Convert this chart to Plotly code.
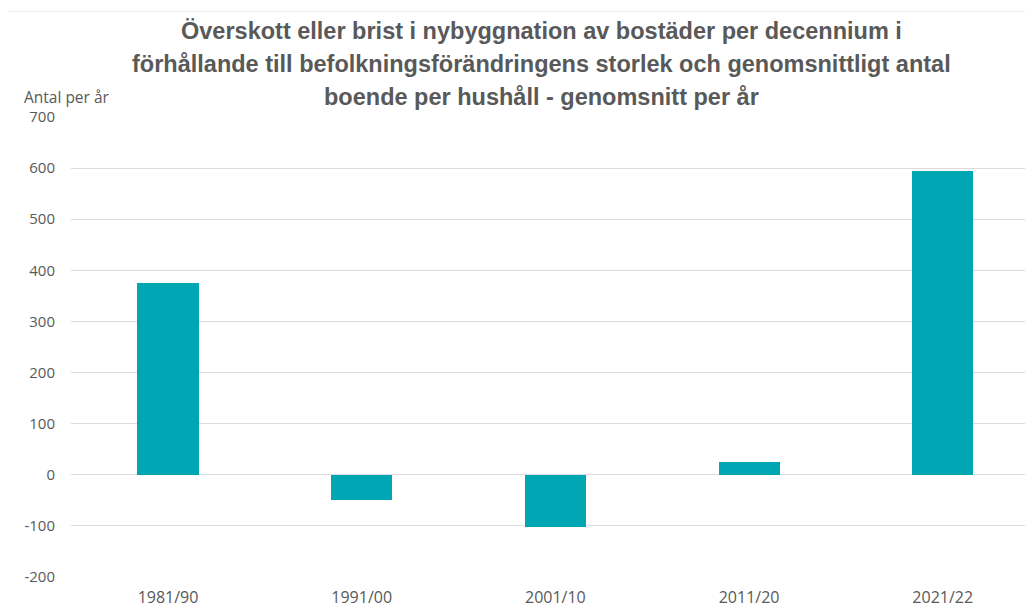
import plotly.graph_objects as go

categories = ["1981/90", "1991/00", "2001/10", "2011/20", "2021/22"]
values = [376, -49, -102, 25, 594]
tick_vals = [-200, -100, 0, 100, 200, 300, 400, 500, 600, 700]
tick_text = ["-200", "-100", "0", "100", "200", "300", "400", "500", "600", "700"]

title_lines = [
    "Överskott eller brist i nybyggnation av bostäder per decennium i",
    "förhållande till befolkningsförändringens storlek och genomsnittligt antal",
    "boende per hushåll - genomsnitt per år",
]
yaxis_title = "Antal per år"

# The page body has an 8px margin, so figure coords = page coords - 8
W, H = 1025, 600
L, R = 63, 1025
T, B = 108.7, 569.3
PW, PH = R - L, B - T


def px(xp):
    return (xp - L) / PW


def py(yp):
    return (B - yp) / PH


fig = go.Figure()
fig.add_trace(go.Bar(
    x=list(range(len(categories))),
    y=values,
    width=0.315,
    marker=dict(color="#00A6B4", line=dict(width=0)),
    hoverinfo="x+y",
))

annotations = []
for i, line in enumerate(title_lines):
    annotations.append(dict(
        text="<b>" + line + "</b>", xref="paper", yref="paper",
        x=px(533.5), y=py(23 + 33 * i), xanchor="center", yanchor="middle",
        showarrow=False,
        font=dict(size=23.5, color="#595959", family="Liberation Sans, Arial, sans-serif"),
    ))
annotations.append(dict(
    text=yaxis_title, xref="paper", yref="paper",
    x=px(14), y=py(89), xanchor="left", yanchor="middle", showarrow=False,
    font=dict(size=15.5, color="#595959", family="Open Sans, sans-serif"),
))

fig.update_layout(
    width=W, height=H,
    margin=dict(l=L, r=W - R, t=T, b=H - B, pad=0),
    paper_bgcolor="white", plot_bgcolor="white",
    showlegend=False,
    bargap=0,
    font=dict(family="Open Sans, sans-serif", color="#595959"),
    xaxis=dict(
        range=[-0.5008, 4.466],
        tickmode="array",
        tickvals=list(range(len(categories))),
        ticktext=categories,
        showgrid=False, zeroline=False, showline=False,
        ticks="", tickfont=dict(size=16, color="#595959", family="Open Sans, sans-serif"),
        ticklabelstandoff=9, automargin=False,
    ),
    yaxis=dict(
        range=[-200, 700],
        tickmode="array",
        tickvals=tick_vals,
        ticktext=tick_text,
        showgrid=True, gridcolor="#dcdcdc", gridwidth=1.4,
        zeroline=True, zerolinecolor="#dcdcdc", zerolinewidth=1.4,
        showline=False, ticks="",
        tickfont=dict(size=15, color="#595959", family="Open Sans, sans-serif"),
        ticklabelstandoff=15, automargin=False,
    ),
    annotations=annotations,
    shapes=[dict(
        type="line", xref="paper", yref="paper",
        x0=px(0), x1=1.0, y0=py(3), y1=py(3),
        line=dict(color="#efefef", width=1), layer="below",
    )],
)

fig.write_html("out.html")
